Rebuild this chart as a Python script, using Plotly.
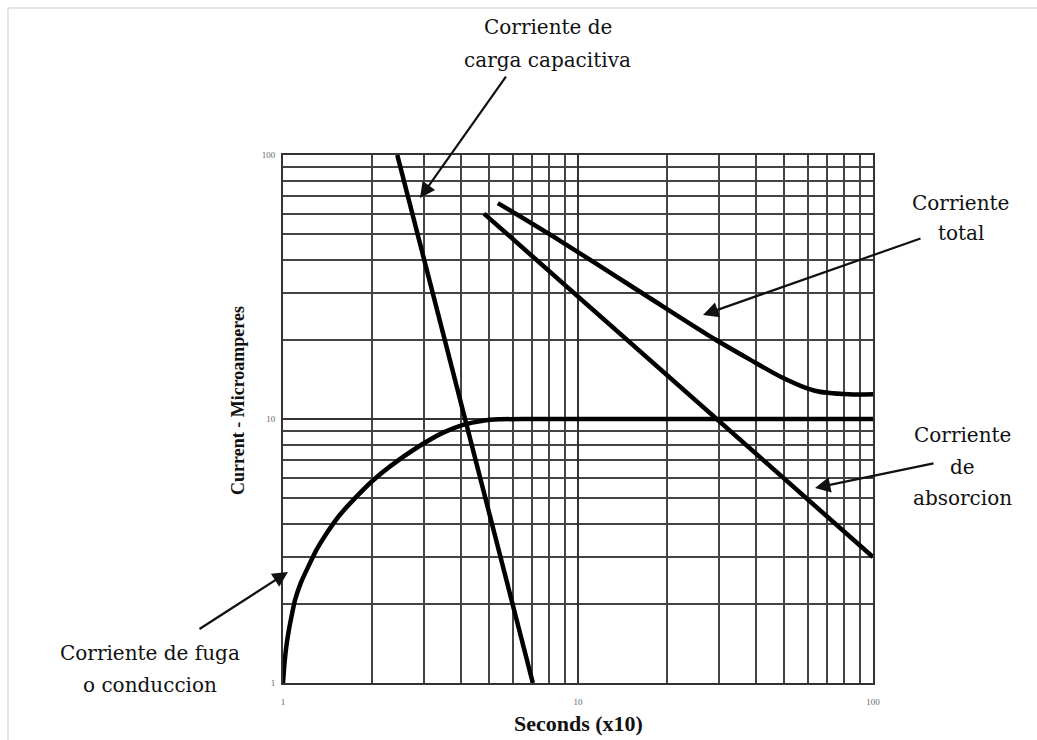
import numpy as np
import plotly.graph_objects as go

# ---- data ----
cap_x = [2.44, 7.03]
cap_y = [100, 1]

leak_x = [1.0, 1.01, 1.025, 1.045, 1.07, 1.098, 1.15, 1.218, 1.30, 1.406, 1.55, 1.732, 2.0, 2.30, 2.9, 3.49, 4.08, 4.76, 5.4, 6.5, 10, 100]
leak_y = [1.0, 1.16, 1.36, 1.57, 1.80, 2.06, 2.40, 2.76, 3.20, 3.69, 4.30, 4.94, 5.80, 6.6, 7.9, 8.88, 9.5, 9.85, 9.97, 10.0, 10.0, 10.0]

abs_x = [4.8, 100]
abs_y = [60, 3]

tot_x = [5.35, 8.75, 19.2, 29.0, 37.9, 49.0, 63.5, 82.8, 100]
tot_y = [65.7, 47.1, 26.9, 20.1, 16.9, 14.4, 12.8, 12.4, 12.4]

major_vals = [1, 10, 100]
major_text = ["1", "10", "100"]
minor_vals = [m * d for d in (1, 10) for m in range(2, 10)]

FONT = "Liberation Serif, Times New Roman, serif"
LABEL_FONT = "DejaVu Serif, Liberation Serif, serif"
LINE = dict(color="black", width=4.5)

fig = go.Figure()
fig.add_trace(go.Scatter(x=cap_x, y=cap_y, mode="lines", line=LINE, showlegend=False))
fig.add_trace(go.Scatter(x=leak_x, y=leak_y, mode="lines", line=dict(LINE, shape="spline", smoothing=0.5), showlegend=False))
fig.add_trace(go.Scatter(x=abs_x, y=abs_y, mode="lines", line=LINE, showlegend=False))
fig.add_trace(go.Scatter(x=tot_x, y=tot_y, mode="lines", line=dict(LINE, shape="spline", smoothing=0.8), showlegend=False))

axis_common = dict(
    type="log",
    tickvals=major_vals,
    ticktext=major_text,
    showgrid=True,
    gridcolor="#333333",
    gridwidth=1.7,
    showline=True,
    linecolor="#333333",
    linewidth=1.7,
    mirror=True,
    zeroline=False,
    ticks="",
    tickfont=dict(family=FONT, size=9, color="#666"),
    minor=dict(tickvals=minor_vals, showgrid=True, gridcolor="#444444", gridwidth=1.7, ticks=""),
)

fig.update_xaxes(range=[0, 2], ticklabelstandoff=9, **axis_common)
fig.update_yaxes(range=[0, 2], ticklabelstandoff=4, **axis_common)

tfont = dict(family=LABEL_FONT, size=20, color="#111")

# text labels, one annotation per line (paper coords)
labels = [
    ("Corriente de", 0.449, 1.242),
    ("carga capacitiva", 0.449, 1.180),
    ("Corriente", 1.149, 0.909),
    ("total", 1.149, 0.852),
    ("Corriente", 1.1525, 0.470),
    ("de", 1.1525, 0.409),
    ("absorcion", 1.1525, 0.350),
    ("Corriente de fuga", -0.2254, 0.0568),
    ("o conduccion", -0.2254, -0.0038),
]
for txt, px, py in labels:
    fig.add_annotation(text=txt, xref="paper", yref="paper", x=px, y=py,
                       showarrow=False, font=tfont, align="center",
                       xanchor="center", yanchor="middle")

# arrows: head in log-axis coords, tail offset in pixels
arrows = [
    (0.4644, 1.837, 87, -123),
    (1.4237, 1.394, 219, -77),
    (1.8034, 0.7386, 120, -25),
    (0.0169, 0.4205, -90, 58),
]
for hx, hy, dx, dy in arrows:
    fig.add_annotation(text="", x=hx, y=hy, xref="x", yref="y",
                       ax=dx, ay=dy, axref="pixel", ayref="pixel",
                       showarrow=True, arrowhead=2, arrowsize=1.4,
                       arrowwidth=2.2, arrowcolor="#111")

# axis titles
fig.add_annotation(text="<b>Current - Microamperes</b>", xref="paper", yref="paper",
                   x=-0.0763, y=0.536, textangle=-90, showarrow=False,
                   xanchor="center", yanchor="middle",
                   font=dict(family=FONT, size=18, color="#111"))
fig.add_annotation(text="<b>Seconds (x10)</b>", xref="paper", yref="paper",
                   x=0.5, y=-0.0758, showarrow=False,
                   xanchor="center", yanchor="middle",
                   font=dict(family=FONT, size=22, color="#111"))

# light frame of the original picture
fig.add_shape(type="line", xref="paper", yref="paper", x0=-0.4661, x1=1.3, y0=1.2784, y1=1.2784,
              line=dict(color="#dddddd", width=1.5))
fig.add_shape(type="line", xref="paper", yref="paper", x0=-0.4661, x1=-0.4661, y0=1.2784, y1=-0.12,
              line=dict(color="#dddddd", width=1.5))

fig.update_layout(
    width=1037, height=740,
    margin=dict(l=283, r=164, t=155, b=57),
    paper_bgcolor="white", plot_bgcolor="white",
    font=dict(family=FONT),
)

fig.write_html("out.html")
